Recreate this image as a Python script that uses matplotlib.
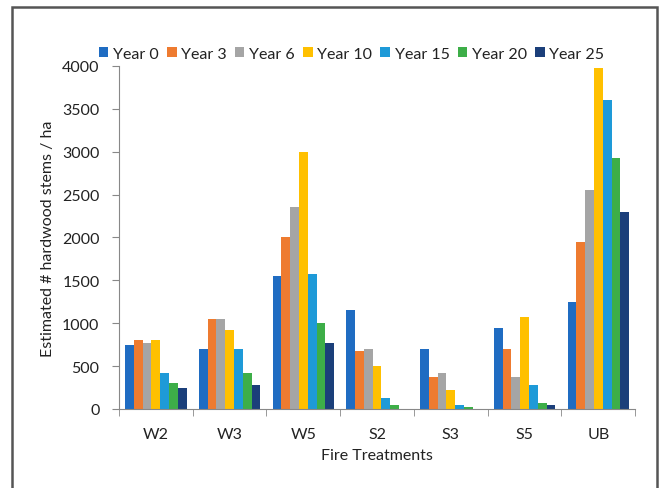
import numpy as np
import matplotlib.pyplot as plt
from matplotlib.patches import Rectangle

plt.rcParams['font.family'] = ['Lato', 'DejaVu Sans']

# data
treatments = ['W2', 'W3', 'W5', 'S2', 'S3', 'S5', 'UB']
years = ['Year 0', 'Year 3', 'Year 6', 'Year 10', 'Year 15', 'Year 20', 'Year 25']
year0 = [750, 700, 1550, 1150, 700, 950, 1250]
year3 = [800, 1050, 2000, 675, 375, 700, 1950]
year6 = [775, 1050, 2350, 700, 425, 375, 2550]
year10 = [800, 925, 3000, 500, 225, 1075, 3975]
year15 = [425, 700, 1575, 125, 50, 275, 3600]
year20 = [300, 425, 1000, 45, 25, 75, 2925]
year25 = [250, 275, 775, 0, 0, 50, 2300]
series = [year0, year3, year6, year10, year15, year20, year25]

colors = ['#1F6CC2', '#EE7B30', '#A5A5A5', '#FFC000', '#1E9AD8', '#3DAE48', '#1B3F7A']

fig = plt.figure(figsize=(6.61, 4.89), dpi=100)
ax = fig.add_axes([0.18, 0.1616, 0.781, 0.7014])

x = np.arange(len(treatments))
w = 0.119
for i, (vals, c, lab) in enumerate(zip(series, colors, years)):
    ax.bar(x + (i - 3) * w, vals, width=w, color=c, label=lab, linewidth=0)

ax.set_xlim(-0.5, 6.5)
ax.set_ylim(0, 4000)
ax.set_yticks(range(0, 4001, 500))
ax.set_xticks(x)
ax.set_xticklabels(treatments)
ax.set_xticks(np.arange(-0.5, 7, 1), minor=True)
ax.tick_params(axis='x', which='major', length=0, pad=13, labelsize=11.5, labelcolor='#222222')
ax.tick_params(axis='x', which='minor', length=5, color='#888888', direction='out')
ax.tick_params(axis='y', length=5, color='#888888', pad=9, labelsize=11.5, labelcolor='#222222')

for s in ['top', 'right']:
    ax.spines[s].set_visible(False)
for s in ['left', 'bottom']:
    ax.spines[s].set_color('#888888')

ax.set_ylabel('Estimated # hardwood stems / ha', fontsize=11.5, color='#222222', labelpad=5)
ax.set_xlabel('Fire Treatments', fontsize=11.5, color='#222222', labelpad=5)

fig.legend(loc='center', bbox_to_anchor=(0.532, 0.888), ncol=7, frameon=False,
           fontsize=11.5, handlelength=0.6, handleheight=0.6, handletextpad=0.3,
           columnspacing=0.5, labelcolor='#222222')

# outer frame around the figure
fig.patches.append(Rectangle((12 / 661, -0.05), 645 / 661, 1.05 - 8 / 489,
                             transform=fig.transFigure, fill=False,
                             edgecolor='#555555', linewidth=1.8))

fig.savefig('out.png', dpi=100)
